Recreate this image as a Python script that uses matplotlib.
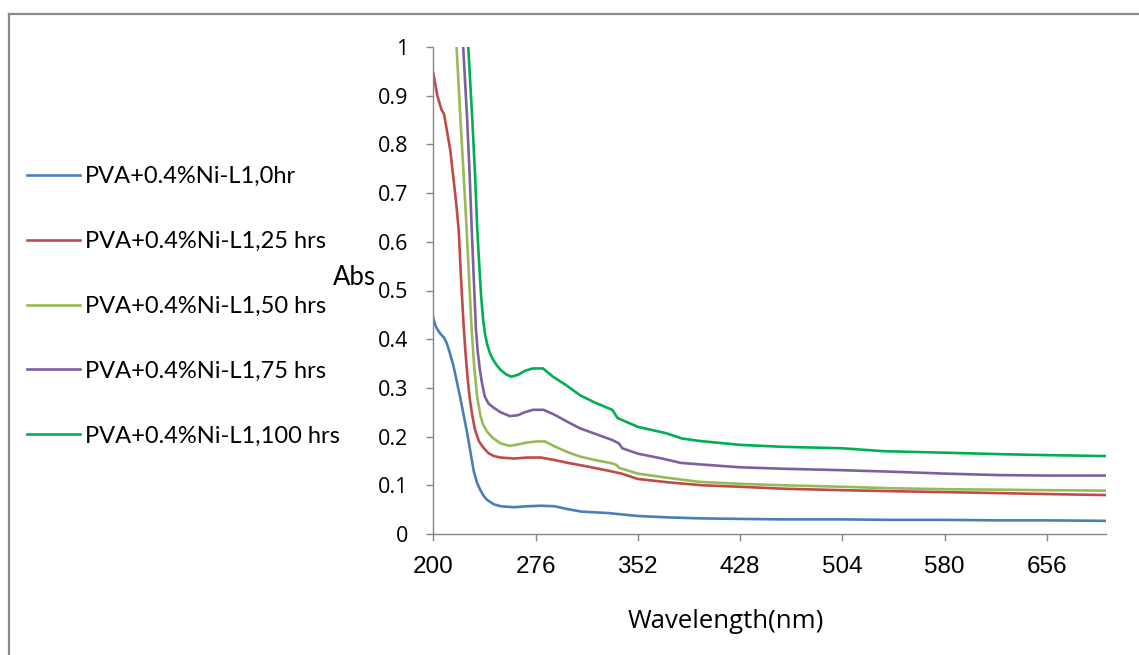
import matplotlib
matplotlib.use("Agg")
import matplotlib.pyplot as plt
from matplotlib.lines import Line2D

# ---------------------------------------------------------------
#   data (wavelength nm, absorbance)
wl_0hr = [200, 202, 205, 208, 210, 212.5, 215, 217.5, 220, 222.5, 225, 227.5, 230, 232.5, 235, 237.5, 240,
          245, 250, 260, 270, 280, 290, 300, 310, 330, 352, 375, 400, 428, 460, 504, 540, 580, 620, 656, 700]
abs_0hr = [0.443, 0.425, 0.412, 0.403, 0.392, 0.37, 0.345, 0.313, 0.28, 0.245, 0.21, 0.17, 0.13, 0.105,
           0.09, 0.078, 0.07, 0.061, 0.057, 0.055, 0.057, 0.058, 0.057, 0.051, 0.046, 0.043, 0.037, 0.034,
           0.032, 0.031, 0.030, 0.030, 0.029, 0.029, 0.028, 0.028, 0.027]

wl_25hr = [200, 203, 206, 208, 210, 212.5, 215, 217, 219, 220.5, 222.5, 224, 225.5, 227, 229, 231, 234,
           237, 241, 245, 250, 260, 270, 280, 290, 300, 310, 330, 340, 352, 375, 400, 428, 460, 504, 540,
           580, 620, 656, 700]
abs_25hr = [0.946, 0.90, 0.872, 0.862, 0.83, 0.79, 0.73, 0.68, 0.62, 0.53, 0.43, 0.37, 0.32, 0.28, 0.243,
            0.214, 0.19, 0.178, 0.166, 0.16, 0.157, 0.155, 0.157, 0.157, 0.152, 0.146, 0.141, 0.13, 0.124,
            0.113, 0.106, 0.10, 0.097, 0.093, 0.090, 0.088, 0.086, 0.084, 0.082, 0.080]

wl_50hr = [214, 217.3, 220, 222.5, 224.7, 226.5, 228.5, 230.5, 232.6, 235, 237, 240, 244, 250, 257, 265,
           270, 277, 283, 290, 300, 309, 320, 333, 336, 338, 352, 375, 398, 428, 460, 504, 540, 580, 620,
           656, 700]
abs_50hr = [1.15, 1.0, 0.86, 0.74, 0.63, 0.53, 0.42, 0.34, 0.282, 0.243, 0.225, 0.21, 0.198, 0.186, 0.181,
            0.185, 0.188, 0.19, 0.19, 0.18, 0.168, 0.159, 0.152, 0.145, 0.142, 0.136, 0.124, 0.115, 0.107,
            0.103, 0.100, 0.097, 0.094, 0.092, 0.091, 0.090, 0.089]

wl_75hr = [219, 222.2, 225, 227, 228.5, 230, 231.7, 233, 234.5, 236, 238.3, 241, 244.5, 250, 257, 263, 268,
           274, 282, 290, 300, 309, 320, 333, 338, 340.5, 352, 370, 384, 398, 428, 460, 504, 540, 580, 620,
           656, 700]
abs_75hr = [1.15, 1.0, 0.86, 0.74, 0.63, 0.53, 0.42, 0.375, 0.34, 0.313, 0.282, 0.268, 0.26, 0.25, 0.242,
            0.244, 0.25, 0.255, 0.255, 0.245, 0.23, 0.217, 0.206, 0.193, 0.186, 0.176, 0.165, 0.155, 0.146,
            0.143, 0.137, 0.134, 0.131, 0.128, 0.124, 0.121, 0.12, 0.12]

wl_100hr = [223, 226, 229, 231, 232.6, 234, 235.5, 237, 238.5, 240, 242, 244, 247, 250, 254, 258, 263, 268,
            274, 281.5, 289, 299, 309, 320, 333, 337, 352, 373, 385, 398, 428, 460, 504, 535, 580, 620, 656, 700]
abs_100hr = [1.15, 1.0, 0.85, 0.74, 0.63, 0.56, 0.49, 0.44, 0.41, 0.39, 0.372, 0.36, 0.347, 0.337, 0.328,
             0.323, 0.327, 0.335, 0.34, 0.34, 0.323, 0.305, 0.285, 0.27, 0.255, 0.238, 0.22, 0.207, 0.196,
             0.191, 0.183, 0.179, 0.176, 0.170, 0.167, 0.164, 0.162, 0.160]

labels = ["PVA+0.4%Ni-L1,0hr", "PVA+0.4%Ni-L1,25 hrs", "PVA+0.4%Ni-L1,50 hrs",
          "PVA+0.4%Ni-L1,75 hrs", "PVA+0.4%Ni-L1,100 hrs"]
colors = ["#4A7EBB", "#BE4B48", "#98B954", "#7D60A0", "#00B050"]
x_ticks = [200, 276, 352, 428, 504, 580, 656]
y_ticks = [0, 0.1, 0.2, 0.3, 0.4, 0.5, 0.6, 0.7, 0.8, 0.9, 1]
y_ticklabels = ["0", "0.1", "0.2", "0.3", "0.4", "0.5", "0.6", "0.7", "0.8", "0.9", "1"]

series = [(wl_0hr, abs_0hr), (wl_25hr, abs_25hr), (wl_50hr, abs_50hr),
          (wl_75hr, abs_75hr), (wl_100hr, abs_100hr)]

W, H = 1139, 655
fig = plt.figure(figsize=(W / 100, H / 100), dpi=100)
ax = fig.add_axes([433.3 / W, 1 - 534 / H, (1106 - 433.3) / W, (534 - 47) / H])

handles = []
for (x, y), c, lab in zip(series, colors, labels):
    ln, = ax.plot(x, y, color=c, lw=1.9, label=lab, solid_joinstyle="round")
    handles.append(ln)

ax.set_xlim(200, 700)
ax.set_ylim(0, 1)
ax.set_xticks(x_ticks)
ax.set_yticks(y_ticks)
ax.set_yticklabels(y_ticklabels)

for s in ["top", "right"]:
    ax.spines[s].set_visible(False)
for s in ["left", "bottom"]:
    ax.spines[s].set_color("#868686")
    ax.spines[s].set_linewidth(1.0)

ax.tick_params(axis="both", direction="out", length=5, width=1.0, color="#868686")
ax.tick_params(axis="y", pad=13)
ax.tick_params(axis="x", pad=11)
for t in ax.get_yticklabels():
    t.set_fontfamily("Open Sans")
    t.set_fontsize(15.5)
for t in ax.get_xticklabels():
    t.set_fontfamily("Liberation Sans")
    t.set_fontsize(17.5)

fig.text(333 / W, 1 - 285 / H, "Abs", family="Lato", fontsize=18.5, ha="left", va="baseline")
fig.text(726 / W, 1 - 628.3 / H, "Wavelength(nm)", family="Open Sans", fontsize=18.5,
         ha="center", va="baseline")

leg = fig.legend(handles=handles, loc="upper left", bbox_to_anchor=(27 / W, 1 - 166 / H),
                 frameon=False, prop={"family": "Lato", "size": 17}, borderpad=0, borderaxespad=0,
                 handlelength=2.25, handletextpad=0.22, labelspacing=1.86)

# chart area border (only top and left show in the frame)
fig.add_artist(Line2D([8.5 / W, 8.5 / W], [0, 1 - 13.5 / H], transform=fig.transFigure,
                      color="#8a8a8a", lw=1.6))
fig.add_artist(Line2D([8.5 / W, 1], [1 - 13.5 / H, 1 - 13.5 / H], transform=fig.transFigure,
                      color="#8a8a8a", lw=1.6))

fig.savefig("out.png", dpi=100)
